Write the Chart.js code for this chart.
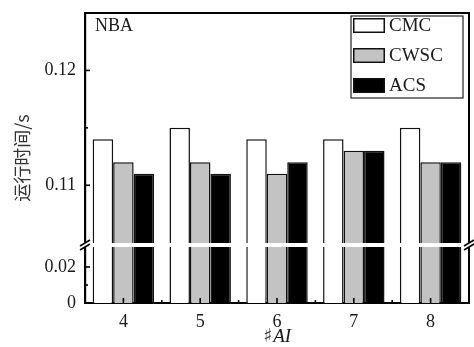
<!DOCTYPE html>
<html>
<head>
<meta charset="utf-8">
<script src="https://cdn.jsdelivr.net/npm/chart.js@4.4.1/dist/chart.umd.min.js"></script>
<style>
  html, body { margin: 0; padding: 0; background: #fff; }
  #wrap { width: 474px; height: 347px; }
</style>
</head>
<body>
<div id="wrap"><canvas id="c"></canvas></div>
<script>
// Run time (s) of the three methods for each #AI value on the NBA data set
const categories = ['4', '5', '6', '7', '8'];
const seriesNames = ['CMC', 'CWSC', 'ACS'];
const cmcTimes  = [0.114, 0.115, 0.114, 0.114, 0.115];
const cwscTimes = [0.112, 0.112, 0.111, 0.113, 0.112];
const acsTimes  = [0.111, 0.111, 0.112, 0.113, 0.112];

// broken value axis: upper and lower segments
const upperRange = [0.1048, 0.125];
const lowerRange = [0, 0.0322];
const upperTicks = [0.11, 0.115, 0.12];
const upperLabeled = [0.11, 0.12];
const lowerTicks = [0, 0.01, 0.02];
const lowerLabeled = [0, 0.02];

const seriesValues = [cmcTimes, cwscTimes, acsTimes];
const seriesFills = ['#ffffff', '#c3c3c3', '#000000'];

const SERIF = '"Liberation Serif", "DejaVu Serif", serif';
const INK = '#1a1a1a';

const datasets = [];
seriesNames.forEach((name, i) => {
  const common = {
    label: name,
    stack: name,
    backgroundColor: seriesFills[i],
    borderColor: '#111',
    borderWidth: 1.5,
    borderSkipped: 'start',
    categoryPercentage: 0.8,
    barPercentage: 1.0
  };
  // part of the bar above the break
  datasets.push(Object.assign({}, common, {
    yAxisID: 'yTop',
    data: seriesValues[i].map(v => [upperRange[0], v])
  }));
  // part of the bar below the break
  datasets.push(Object.assign({}, common, {
    yAxisID: 'yBottom',
    data: seriesValues[i].map(v => Math.min(v, lowerRange[1]))
  }));
});

function valueAxis(range, ticks, labeled, weight) {
  return {
    type: 'linear',
    position: 'left',
    stack: 'time',
    stackWeight: weight,
    stacked: false,
    min: range[0],
    max: range[1],
    afterBuildTicks(scale) { scale.ticks = ticks.map(v => ({ value: v })); },
    afterFit(scale) {
      scale.width = 85;
      scale.paddingTop = 0;
      scale.paddingBottom = 0;
    },
    grid: { display: false, drawTicks: false },
    border: { display: true, color: '#000', width: 2.2 },
    ticks: {
      padding: 9,
      color: INK,
      font: { family: SERIF, size: 18 },
      callback: v => labeled.includes(v) ? String(v) : ''
    }
  };
}

// inward tick marks, frame, axis break and annotations
const decorations = {
  id: 'decorations',
  afterDatasetsDraw(chart) {
    const ctx = chart.ctx;
    const { left, right, top, bottom } = chart.chartArea;
    const yTop = chart.scales.yTop, yBottom = chart.scales.yBottom, x = chart.scales.x;
    const breakY = yTop.bottom;

    ctx.save();
    // white gap across the bars at the break
    ctx.fillStyle = '#fff';
    ctx.fillRect(left + 1, breakY - 2, right - left - 2, 4);

    ctx.strokeStyle = '#000';
    ctx.lineWidth = 1.6;
    // value-axis ticks pointing inward
    [[yTop, upperTicks, upperLabeled], [yBottom, lowerTicks, lowerLabeled]].forEach(([s, ts, lab]) => {
      ts.forEach(v => {
        const py = s.getPixelForValue(v);
        const len = lab.includes(v) ? 5 : 3;
        ctx.beginPath();
        ctx.moveTo(left, py);
        ctx.lineTo(left + len, py);
        ctx.stroke();
      });
    });
    // category ticks and the minor ticks between categories
    categories.forEach((c, i) => {
      const px = x.getPixelForValue(i);
      ctx.beginPath();
      ctx.moveTo(px, bottom);
      ctx.lineTo(px, bottom - 5);
      ctx.stroke();
      if (i < categories.length - 1) {
        const mx = (px + x.getPixelForValue(i + 1)) / 2;
        ctx.beginPath();
        ctx.moveTo(mx, bottom);
        ctx.lineTo(mx, bottom - 3);
        ctx.stroke();
      }
    });

    // top and right frame
    ctx.lineWidth = 2;
    ctx.beginPath();
    ctx.moveTo(left - 1, top);
    ctx.lineTo(right, top);
    ctx.lineTo(right, bottom);
    ctx.stroke();

    // break marks on both vertical axes
    [left, right].forEach(ax => {
      ctx.fillStyle = '#fff';
      ctx.beginPath();
      ctx.moveTo(ax - 5, breakY + 1);
      ctx.lineTo(ax + 5, breakY - 5);
      ctx.lineTo(ax + 5, breakY - 1);
      ctx.lineTo(ax - 5, breakY + 5);
      ctx.closePath();
      ctx.fill();
      ctx.lineWidth = 1.6;
      ctx.beginPath();
      ctx.moveTo(ax - 5, breakY + 1);
      ctx.lineTo(ax + 5, breakY - 5);
      ctx.moveTo(ax - 5, breakY + 5);
      ctx.lineTo(ax + 5, breakY - 1);
      ctx.stroke();
    });

    // data set name
    ctx.fillStyle = INK;
    ctx.font = '18px ' + SERIF;
    ctx.textAlign = 'left';
    ctx.textBaseline = 'middle';
    ctx.fillText('NBA', left + 10, top + 13);

    // legend box
    const bx = right - 118, by = top + 3, bw = 112, bh = 82;
    ctx.lineWidth = 1.2;
    ctx.strokeStyle = '#222';
    ctx.strokeRect(bx, by, bw, bh);
    const shown = chart.data.datasets.filter(d => d.yAxisID === 'yTop');
    ctx.font = '19px ' + SERIF;
    shown.forEach((d, i) => {
      const sy = by + 2 + i * 30;
      ctx.fillStyle = d.backgroundColor;
      ctx.fillRect(bx + 2, sy, 32, 15);
      ctx.lineWidth = 1.5;
      ctx.strokeStyle = '#111';
      ctx.strokeRect(bx + 2.75, sy + 0.75, 30.5, 13.5);
      ctx.fillStyle = INK;
      ctx.fillText(d.label, bx + 38, sy + 8);
    });

    // x-axis title: sharp sign followed by italic AI
    const cx = (left + right) / 2;
    const sharpFont = '19px "DejaVu Serif", serif';
    const aiFont = 'italic 19px ' + SERIF;
    ctx.font = sharpFont;
    const sharpW = ctx.measureText('\u266F').width;
    ctx.font = aiFont;
    const aiW = ctx.measureText('AI').width;
    const startX = cx - (sharpW + 1 + aiW) / 2;
    ctx.textAlign = 'left';
    ctx.font = sharpFont;
    ctx.fillStyle = '#444';
    ctx.fillText('\u266F', startX, 337);
    ctx.fillStyle = INK;
    ctx.font = aiFont;
    ctx.fillText('AI', startX + sharpW + 1, 337);

    // y-axis title
    ctx.translate(22, (top + bottom) / 2);
    ctx.rotate(-Math.PI / 2);
    ctx.textAlign = 'center';
    ctx.font = '18px "Noto Sans CJK SC", sans-serif';
    ctx.fillStyle = '#333';
    ctx.fillText('运行时间/s', 0, 0);
    ctx.restore();
  }
};

new Chart(document.getElementById('c'), {
  type: 'bar',
  data: { labels: categories, datasets },
  options: {
    responsive: true,
    maintainAspectRatio: false,
    animation: false,
    layout: { padding: { top: 13, right: 5, bottom: 0, left: 0 } },
    plugins: { legend: { display: false }, tooltip: { enabled: false } },
    scales: {
      x: {
        type: 'category',
        offset: true,
        grid: { display: false, drawTicks: false },
        border: { display: true, color: '#000', width: 2 },
        ticks: { padding: 8, color: INK, font: { family: SERIF, size: 18 } },
        afterFit(scale) {
          scale.height = 44;
          scale.paddingLeft = 0;
          scale.paddingRight = 0;
        }
      },
      // listed bottom segment first: the stack is laid out from the last entry upward
      yBottom: valueAxis(lowerRange, lowerTicks, lowerLabeled, 1),
      yTop: valueAxis(upperRange, upperTicks, upperLabeled, 4)
    }
  },
  plugins: [decorations]
});
</script>
</body>
</html>
